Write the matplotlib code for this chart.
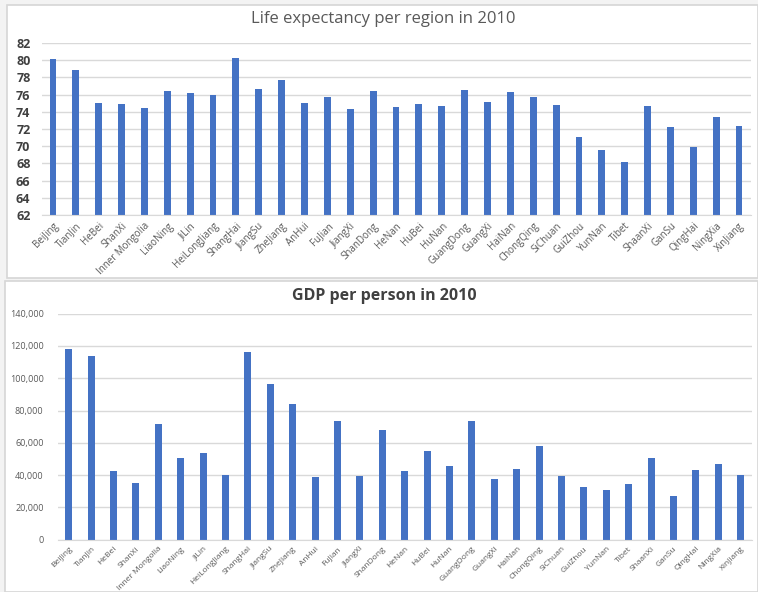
import numpy as np
import matplotlib
matplotlib.use('Agg')
import matplotlib.pyplot as plt
from matplotlib.patches import Rectangle
from matplotlib.ticker import FuncFormatter

regions = ['BeiJing', 'TianJin', 'HeBei', 'ShanXi', 'Inner Mongolia', 'LiaoNing', 'JiLin',
           'HeiLongJiang', 'ShangHai', 'JiangSu', 'ZheJiang', 'AnHui', 'FuJian', 'JiangXi',
           'ShanDong', 'HeNan', 'HuBei', 'HuNan', 'GuangDong', 'GuangXi', 'HaiNan',
           'ChongQing', 'SiChuan', 'GuiZhou', 'YunNan', 'Tibet', 'ShaanXi', 'GanSu',
           'QingHai', 'NingXia', 'XinJiang']

life_expectancy = [80.18, 78.89, 74.97, 74.92, 74.44, 76.38, 76.18, 75.98, 80.26, 76.63,
                   77.73, 75.08, 75.76, 74.33, 76.46, 74.57, 74.87, 74.70, 76.49, 75.11,
                   76.30, 75.70, 74.75, 71.10, 69.54, 68.17, 74.68, 72.23, 69.96, 73.38,
                   72.35]

gdp_per_person = [118100, 114000, 42500, 34900, 71900, 50600, 53700, 40300, 116000, 96200,
                  84000, 38800, 73700, 39600, 67700, 42300, 55100, 45800, 73300, 37400,
                  43800, 58000, 39400, 32600, 30800, 34500, 50600, 27300, 42900, 46700,
                  39900]

plt.rcParams['font.family'] = ['Open Sans', 'DejaVu Sans']
blue = '#4472C4'
grid = '#d9d9d9'

fig = plt.figure(figsize=(7.58, 5.92), dpi=100, facecolor='#f3f3f3')

# panel backgrounds (chart areas like in Excel), kept behind the axes
fig.patches.append(Rectangle((7 / 758, 1 - 278 / 592), 751 / 758, 273 / 592,
                             transform=fig.transFigure, facecolor='white',
                             edgecolor='#d6d6d6', lw=1.2, zorder=-5))
fig.patches.append(Rectangle((5 / 758, 0), 753 / 758, 311 / 592,
                             transform=fig.transFigure, facecolor='white',
                             edgecolor='#d6d6d6', lw=1.2, zorder=-5))

x = np.arange(len(regions))

# top chart
ax1 = fig.add_axes([41.5 / 758, 1 - 215 / 592, 709 / 758, 172 / 592])
ax1.bar(x, life_expectancy, width=0.3, color=blue, zorder=2)
ax1.set_ylim(62, 82)
ax1.set_yticks(np.arange(62, 83, 2))
ax1.set_xlim(-0.5, len(regions) - 0.5)
ax1.set_xticks(x)
ax1.set_xticklabels(regions, rotation=45, ha='right', rotation_mode='anchor',
                    fontsize=7, color='#595959')
ax1.tick_params(axis='y', length=0, labelsize=9, labelcolor='#404040', pad=8)
ax1.tick_params(axis='x', length=0, pad=4)
for lbl in ax1.get_yticklabels():
    lbl.set_fontweight('bold')
ax1.grid(axis='y', color=grid, lw=1, zorder=0)
for s in ['top', 'right', 'left']:
    ax1.spines[s].set_visible(False)
ax1.spines['bottom'].set_color(grid)
ax1.set_facecolor('none')
fig.text(383 / 758, 1 - 19 / 592, 'Life expectancy per region in 2010', ha='center',
         va='center', fontsize=12, color='#595959')

# bottom chart
ax2 = fig.add_axes([57.5 / 758, 1 - 539.7 / 592, 694.4 / 758, 226 / 592])
ax2.bar(x, gdp_per_person, width=0.32, color=blue, zorder=2)
ax2.set_ylim(0, 140000)
ax2.set_yticks(np.arange(0, 140001, 20000))
ax2.yaxis.set_major_formatter(FuncFormatter(lambda v, p: f'{int(v):,}'))
ax2.set_xlim(-0.5, len(regions) - 0.5)
ax2.set_xticks(x)
ax2.set_xticklabels(regions, rotation=45, ha='right', rotation_mode='anchor',
                    fontsize=6, color='#595959')
ax2.tick_params(axis='y', length=0, labelsize=6.5, labelcolor='#595959', pad=10)
ax2.tick_params(axis='x', length=0, pad=4)
ax2.grid(axis='y', color=grid, lw=1, zorder=0)
for s in ['top', 'right', 'left']:
    ax2.spines[s].set_visible(False)
ax2.spines['bottom'].set_color(grid)
ax2.set_facecolor('none')
fig.text(384 / 758, 1 - 296 / 592, 'GDP per person in 2010', ha='center',
         va='center', fontsize=11.5, fontweight='bold', color='#404040')

fig.savefig('out.png', dpi=100, facecolor=fig.get_facecolor())
